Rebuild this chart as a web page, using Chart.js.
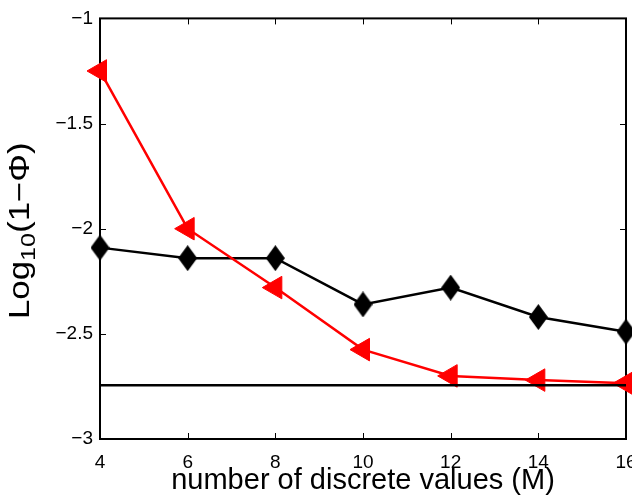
<!DOCTYPE html>
<html>
<head>
<meta charset="utf-8">
<script src="https://cdn.jsdelivr.net/npm/chart.js@4"></script>
<style>
  html, body { margin: 0; padding: 0; background: #fff; overflow: hidden; }
  #wrap { width: 680px; height: 498px; }
</style>
</head>
<body>
<div id="wrap"><canvas id="chart"></canvas></div>
<script>
const mValues = [4, 6, 8, 10, 12, 14, 16];
const diamondSeries = [-2.09, -2.14, -2.14, -2.36, -2.28, -2.42, -2.49];
const triangleSeries = [-1.25, -2.0, -2.28, -2.575, -2.70, -2.72, -2.735];
const referenceLevel = -2.745;
const xTicks = [4, 6, 8, 10, 12, 14, 16];
const yTicks = [-3, -2.5, -2, -1.5, -1];

const toPoints = (ys) => mValues.map((m, i) => ({ x: m, y: ys[i] }));
const minus = (v) => String(v).replace('-', '\u2212');
const FONT = '"Liberation Sans", Arial, sans-serif';

// matlab's diamond is a bit taller than wide
function makeDiamond(w, h, color) {
    const c = document.createElement('canvas');
    c.width = w; c.height = h;
    const g = c.getContext('2d');
    g.fillStyle = color;
    g.beginPath();
    g.moveTo(w / 2, 0);
    g.lineTo(w, h / 2);
    g.lineTo(w / 2, h);
    g.lineTo(0, h / 2);
    g.closePath();
    g.fill();
    return c;
}
const diamond = makeDiamond(19, 26, '#000');

// box with inward ticks, like matlab
const boxPlugin = {
    id: 'box',
    beforeDatasetsDraw(chart) {
        const { ctx, chartArea: a, scales } = chart;
        ctx.save();
        ctx.strokeStyle = '#000';
        ctx.lineWidth = 1;
        ctx.beginPath();
        xTicks.forEach(v => {
            const px = Math.round(scales.x.getPixelForValue(v)) + 0.5;
            ctx.moveTo(px, a.bottom); ctx.lineTo(px, a.bottom - 6);
            ctx.moveTo(px, a.top); ctx.lineTo(px, a.top + 6);
        });
        yTicks.forEach(v => {
            const py = Math.round(scales.y.getPixelForValue(v)) + 0.5;
            ctx.moveTo(a.left, py); ctx.lineTo(a.left + 6, py);
            ctx.moveTo(a.right, py); ctx.lineTo(a.right - 6, py);
        });
        ctx.stroke();
        ctx.lineWidth = 2;
        ctx.strokeRect(a.left, a.top, a.right - a.left, a.bottom - a.top);
        ctx.restore();
    },
    afterDraw(chart) {
        // y label with a subscript
        const { ctx, chartArea: a } = chart;
        ctx.save();
        ctx.translate(21, (a.top + a.bottom) / 2 + 2);
        ctx.rotate(-Math.PI / 2);
        ctx.scale(1.2, 1);
        ctx.fillStyle = '#000';
        ctx.textBaseline = 'middle';
        const big = '29px ' + FONT;
        const small = '21px ' + FONT;
        ctx.font = big;
        const w1 = ctx.measureText('Log').width;
        const w3 = ctx.measureText('(1\u2212\u03A6)').width;
        ctx.font = small;
        const w2 = ctx.measureText('10').width;
        let x = -(w1 + w2 + w3) / 2;
        ctx.font = big;
        ctx.fillText('Log', x, 0);
        x += w1;
        ctx.font = small;
        ctx.fillText('10', x, 8);
        x += w2;
        ctx.font = big;
        ctx.fillText('(1\u2212\u03A6)', x, 0);
        ctx.restore();
    }
};

new Chart(document.getElementById('chart'), {
    type: 'line',
    data: {
        datasets: [
            {
                data: [{ x: 4, y: referenceLevel }, { x: 16, y: referenceLevel }],
                borderColor: '#000',
                borderWidth: 2.5,
                pointRadius: 0,
                clip: false
            },
            {
                data: toPoints(triangleSeries),
                borderColor: '#ff0000',
                backgroundColor: '#ff0000',
                borderWidth: 2.5,
                pointStyle: 'triangle',
                pointRotation: -90,
                pointRadius: 13,
                pointBorderWidth: 1,
                clip: false
            },
            {
                data: toPoints(diamondSeries),
                borderColor: '#000',
                backgroundColor: '#000',
                borderWidth: 2.5,
                pointStyle: diamond,
                pointRadius: 10,
                clip: false
            }
        ]
    },
    options: {
        responsive: true,
        maintainAspectRatio: false,
        devicePixelRatio: 1,
        animation: false,
        events: [],
        layout: { padding: { top: 17, right: 54, left: 0, bottom: 0 } },
        plugins: { legend: { display: false }, tooltip: { enabled: false } },
        scales: {
            x: {
                type: 'linear',
                min: 4, max: 16,
                afterBuildTicks: (s) => { s.ticks = xTicks.map(v => ({ value: v })); },
                afterFit: (s) => { s.height = 59; },
                grid: { display: false, drawTicks: false },
                border: { display: false },
                ticks: {
                    padding: 12,
                    color: '#000',
                    maxRotation: 0,
                    autoSkip: false,
                    font: { family: FONT, size: 19 }
                },
                title: {
                    display: true,
                    text: 'number of discrete values (M)',
                    color: '#000',
                    padding: { top: 0, bottom: 0 },
                    font: { family: FONT, size: 29 }
                }
            },
            y: {
                type: 'linear',
                min: -3, max: -1,
                afterBuildTicks: (s) => { s.ticks = yTicks.map(v => ({ value: v })); },
                afterFit: (s) => { s.width = 100; },
                grid: { display: false, drawTicks: false },
                border: { display: false },
                ticks: {
                    padding: 7,
                    color: '#000',
                    callback: (v) => minus(v),
                    font: { family: FONT, size: 19 }
                }
            }
        }
    },
    plugins: [boxPlugin]
});
</script>
</body>
</html>
